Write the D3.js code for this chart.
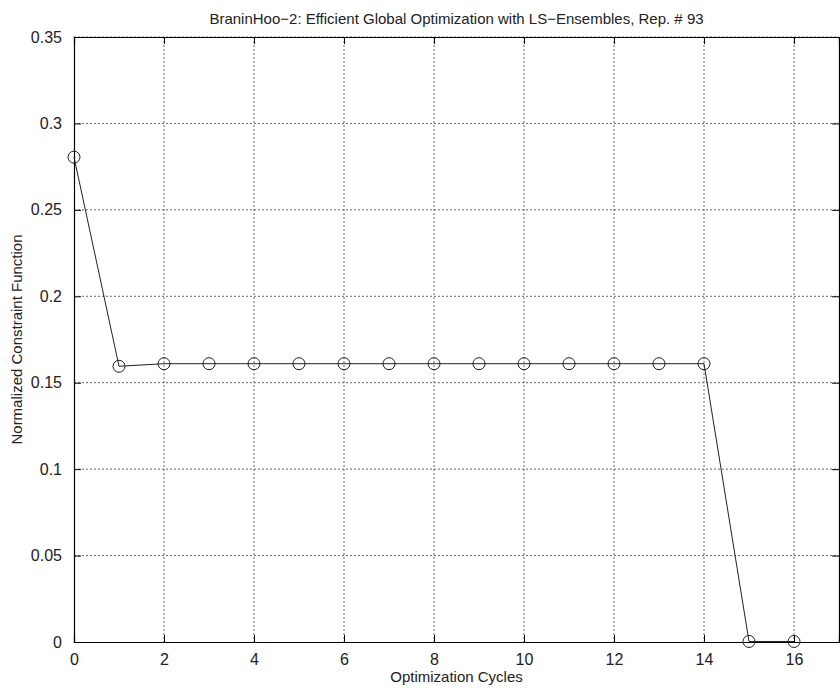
<!DOCTYPE html>
<html>
<head>
<meta charset="utf-8">
<script src="https://cdn.jsdelivr.net/npm/d3@7"></script>
<style>
  body { margin: 0; background: #fff; }
  svg { font-family: "Liberation Sans", Arial, sans-serif; }
</style>
</head>
<body>
<script>
var cycles = [0, 1, 2, 3, 4, 5, 6, 7, 8, 9, 10, 11, 12, 13, 14, 15, 16];
var values = [0.2805, 0.1595, 0.161, 0.161, 0.161, 0.161, 0.161, 0.161, 0.161, 0.161, 0.161, 0.161, 0.161, 0.161, 0.161, 0.0003, 0.0003];
var xTicks = [0, 2, 4, 6, 8, 10, 12, 14, 16];
var yTicks = [0, 0.05, 0.1, 0.15, 0.2, 0.25, 0.3, 0.35];
var yTickLabels = ["0", "0.05", "0.1", "0.15", "0.2", "0.25", "0.3", "0.35"];

var width = 840;
var height = 688;
var margin = {top: 37, right: 1, bottom: 46, left: 74};
var w = width - margin.left - margin.right;
var h = height - margin.top - margin.bottom;

var svg = d3.select("body")
    .append("svg")
    .attr("width", width)
    .attr("height", height);

var g = svg.append("g")
    .attr("transform", "translate(" + margin.left + ", " + margin.top + ")");

var x = d3.scaleLinear().domain([0, 17]).range([0, w]);
var y = d3.scaleLinear().domain([0, 0.35]).range([h, 0]);

// grid (dotted, like matlab)
g.selectAll(".vgrid")
    .data(xTicks.filter((d) => d > 0))
    .enter().append("line")
    .attr("x1", (d) => x(d)).attr("x2", (d) => x(d))
    .attr("y1", 0).attr("y2", h)
    .attr("stroke", "#666")
    .attr("stroke-width", 1)
    .attr("stroke-dasharray", "2,2");

g.selectAll(".hgrid")
    .data(yTicks.filter((d) => d > 0))
    .enter().append("line")
    .attr("x1", 0).attr("x2", w)
    .attr("y1", (d) => y(d)).attr("y2", (d) => y(d))
    .attr("stroke", "#666")
    .attr("stroke-width", 1)
    .attr("stroke-dasharray", "2,2");

// axes, ticks inside
var bottomAxis = d3.axisBottom(x).tickValues(xTicks).tickSize(-7).tickPadding(12).tickFormat(d3.format("d"));
g.append("g")
    .attr("class", "bottom axis")
    .attr("transform", "translate(0, " + h + ")")
    .call(bottomAxis);

var topAxis = d3.axisTop(x).tickValues(xTicks).tickSize(-7).tickFormat("");
g.append("g").attr("class", "top axis").call(topAxis);

var leftAxis = d3.axisLeft(y).tickValues(yTicks).tickSize(-7).tickPadding(12)
    .tickFormat((d, i) => yTickLabels[i]);
g.append("g").attr("class", "left axis").call(leftAxis);

var rightAxis = d3.axisRight(y).tickValues(yTicks).tickSize(-7).tickFormat("");
g.append("g").attr("class", "right axis")
    .attr("transform", "translate(" + w + ", 0)")
    .call(rightAxis);

g.selectAll(".axis path").attr("stroke", "#000").attr("stroke-width", 1.2);
g.selectAll(".axis line").attr("stroke", "#000").attr("stroke-width", 1);
g.selectAll(".axis text").attr("font-size", "16px").attr("fill", "#222")
    .attr("font-family", "Liberation Sans, Arial, sans-serif");

// series line
var line = d3.line()
    .x((d, i) => x(cycles[i]))
    .y((d) => y(d));

g.append("path")
    .datum(values)
    .attr("d", line)
    .attr("fill", "none")
    .attr("stroke", "#222")
    .attr("stroke-width", 1);

g.selectAll(".pt")
    .data(values)
    .enter().append("circle")
    .attr("cx", (d, i) => x(cycles[i]))
    .attr("cy", (d) => y(d))
    .attr("r", 6)
    .attr("fill", "none")
    .attr("stroke", "#222")
    .attr("stroke-width", 1);

// labels
svg.append("text")
    .attr("x", margin.left + w / 2)
    .attr("y", 24)
    .attr("text-anchor", "middle")
    .attr("font-size", "15px")
    .attr("fill", "#222")
    .text("BraninHoo\u22122: Efficient Global Optimization with LS\u2212Ensembles, Rep. # 93");

svg.append("text")
    .attr("x", margin.left + w / 2)
    .attr("y", 682)
    .attr("text-anchor", "middle")
    .attr("font-size", "15px")
    .attr("fill", "#222")
    .text("Optimization Cycles");

svg.append("text")
    .attr("transform", "rotate(-90)")
    .attr("x", -(margin.top + h / 2))
    .attr("y", 22)
    .attr("text-anchor", "middle")
    .attr("font-size", "15px")
    .attr("fill", "#222")
    .text("Normalized Constraint Function");
</script>
</body>
</html>
